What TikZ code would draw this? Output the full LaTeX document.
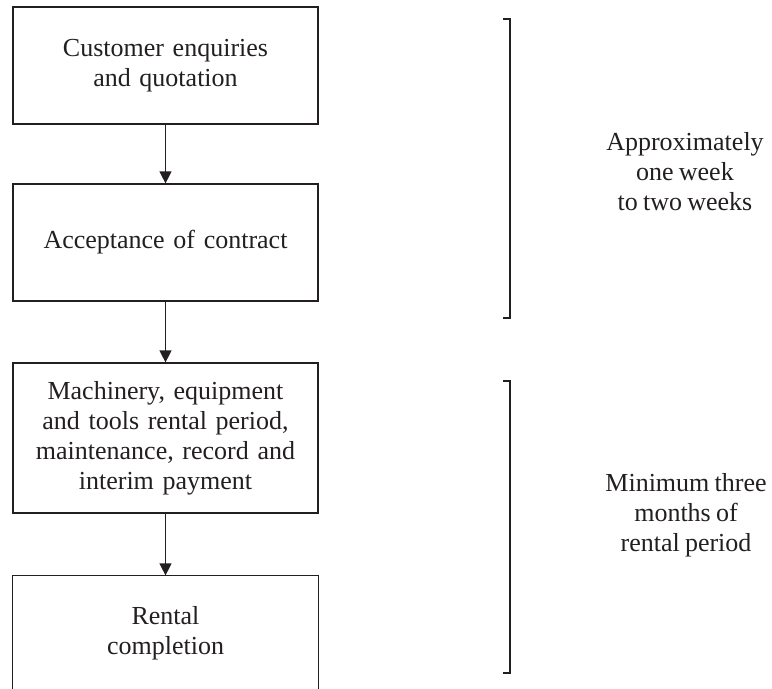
\documentclass[tikz,border=0pt]{standalone}
\usepackage{fontspec}
\setmainfont[WordSpace={0.8}]{Liberation Serif}
\usetikzlibrary{arrows.meta}
\definecolor{ink}{HTML}{231F20}
\tikzset{
  stage/.style={draw=ink, line width=0.9pt, minimum width=228.75pt, text width=224pt, align=center, inner sep=0pt, text=ink},
  flow/.style={draw=ink, line width=0.9pt, -{Triangle[length=9pt,width=9pt]}},
  span/.style={draw=ink, line width=0.9pt},
  note/.style={align=center, text=ink}
}
\begin{document}
\begin{tikzpicture}[x=0.75pt,y=-0.75pt,font=\fontsize{19.5}{22.5}\selectfont]
\useasboundingbox (0,0) rectangle (772,689);

\node[stage, minimum height=87.75pt] (enq) at (165.5,65.5) {Customer enquiries\\and quotation};
\node[stage, minimum height=87.75pt] (acc) at (165.5,242.5) {Acceptance of contract};
\node[stage, minimum height=112.5pt] (rent) at (165.5,438) {Machinery, equipment\\and tools rental period,\\maintenance, record and\\interim payment};
\node[stage, draw=none, minimum height=85.5pt] (done) at (165.5,633) {Rental\\completion};
\draw[span] ([yshift=-6pt]done.south west) -- (done.north west) -- (done.north east) -- ([yshift=-6pt]done.south east);

\draw[flow] (enq) -- (acc);
\draw[flow] (acc) -- (rent);
\draw[flow] (rent) -- (done);

% brackets
\draw[span] (503,19) -- (510,19) -- (510,318) -- (503,318);
\draw[span] (503,381) -- (510,381) -- (510,673) -- (503,673);

\node[note] (week) at (685,172) {Approximately\\one week\\to two weeks};
\node[note] (month) at (686,515) {Minimum three\\months of\\rental period};
\end{tikzpicture}
\end{document}
